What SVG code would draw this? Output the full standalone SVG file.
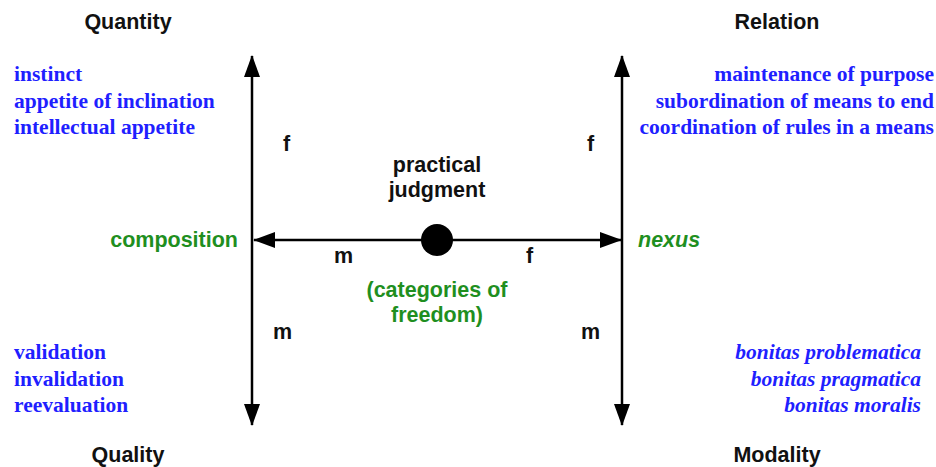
<svg xmlns="http://www.w3.org/2000/svg" width="936" height="467" viewBox="0 0 936 467">
<style>
.h{font-family:"Liberation Sans",Arial,sans-serif;font-weight:bold;font-size:21.5px;fill:#111}
.b{font-family:"Liberation Serif","Times New Roman",serif;font-weight:bold;font-size:21.5px;fill:#1f1fff}
.bi{font-style:italic}
.g{font-family:"Liberation Sans",Arial,sans-serif;font-weight:bold;font-size:21.5px;fill:#1f8f1f}
.ln{stroke:#000;stroke-width:2.5;fill:none}
.mid{text-anchor:middle}
.end{text-anchor:end}
</style>
<defs>
<marker id="ah" viewBox="0 0 22 16" refX="21" refY="8" markerWidth="22" markerHeight="16" markerUnits="userSpaceOnUse" orient="auto">
<path d="M0,0 L22,8 L0,16 Z" fill="#000"/>
</marker>
</defs>
<g id="connectors">
<line class="ln" x1="252" y1="240" x2="252" y2="56" marker-end="url(#ah)"/>
<line class="ln" x1="252" y1="240" x2="252" y2="425" marker-end="url(#ah)"/>
<line class="ln" x1="622" y1="240" x2="622" y2="56" marker-end="url(#ah)"/>
<line class="ln" x1="622" y1="240" x2="622" y2="425" marker-end="url(#ah)"/>
<line class="ln" x1="437" y1="240" x2="254" y2="240" marker-end="url(#ah)"/>
<line class="ln" x1="437" y1="240" x2="621" y2="240" marker-end="url(#ah)"/>
<text class="h" x="283" y="151">f</text>
<text class="h" x="587" y="151">f</text>
<text class="h" x="273" y="339">m</text>
<text class="h" x="581" y="339">m</text>
<text class="h" x="334" y="263">m</text>
<text class="h" x="526" y="263">f</text>
</g>
<g id="practical-judgment">
<circle cx="437" cy="240" r="16" fill="#000"/>
<text class="h mid" x="437" y="172">practical</text>
<text class="h mid" x="437" y="197">judgment</text>
<text class="g mid" x="437" y="297">(categories of</text>
<text class="g mid" x="437" y="322">freedom)</text>
</g>
<g id="quantity">
<text class="h mid" x="128" y="29">Quantity</text>
<text class="b" x="14" y="81">instinct</text>
<text class="b" x="14" y="107.5">appetite of inclination</text>
<text class="b" x="14" y="134">intellectual appetite</text>
</g>
<g id="relation">
<text class="h mid" x="777" y="29">Relation</text>
<text class="b end" x="934" y="81">maintenance of purpose</text>
<text class="b end" x="934" y="107.5">subordination of means to end</text>
<text class="b end" x="934" y="134">coordination of rules in a means</text>
</g>
<g id="quality">
<text class="h mid" x="128" y="462">Quality</text>
<text class="b" x="14" y="359">validation</text>
<text class="b" x="14" y="385.5">invalidation</text>
<text class="b" x="14" y="412">reevaluation</text>
</g>
<g id="modality">
<text class="h mid" x="777" y="462">Modality</text>
<text class="b bi end" x="921" y="359">bonitas problematica</text>
<text class="b bi end" x="921" y="385.5">bonitas pragmatica</text>
<text class="b bi end" x="921" y="412">bonitas moralis</text>
</g>
<g id="composition">
<text class="g end" x="238" y="247">composition</text>
</g>
<g id="nexus">
<text class="g bi" x="638" y="247">nexus</text>
</g>
</svg>
